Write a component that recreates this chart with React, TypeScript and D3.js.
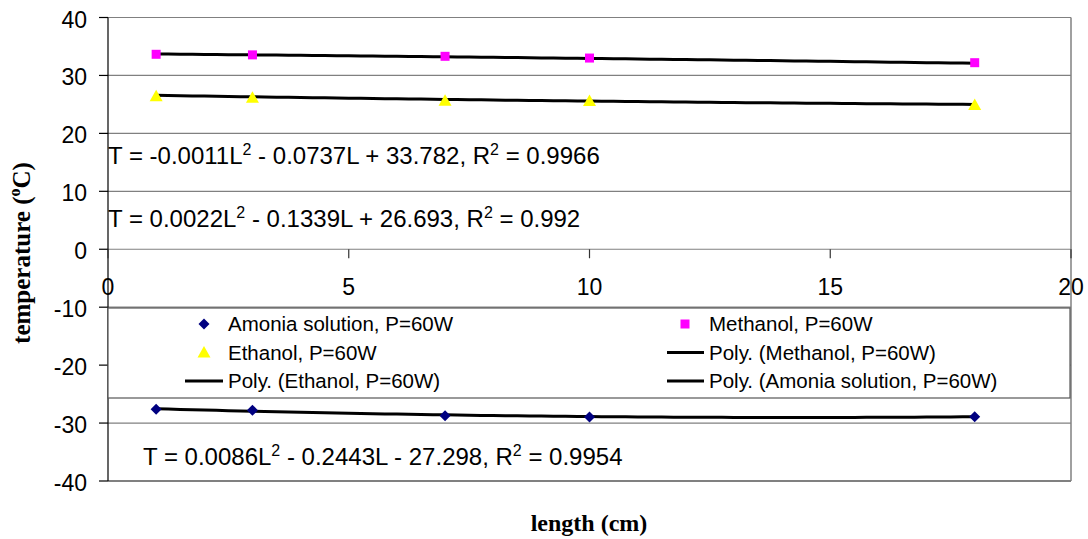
import React from "react";
import * as d3 from "d3";

const lengths = [1, 3, 7, 10, 18];
const methanol = [33.65, 33.55, 33.3, 33.0, 32.2];
const ethanol = [26.4, 26.15, 25.65, 25.6, 24.9];
const ammonia = [-27.6, -27.8, -28.75, -28.95, -28.9];

// trendline coefficients (a L^2 + b L + c), as printed on the chart
const methanolFit = [-0.0011, -0.0737, 33.782];
const ethanolFit = [0.0022, -0.1339, 26.693];
const ammoniaFit = [0.0086, -0.2443, -27.298];

const yTicks = [-40, -30, -20, -10, 0, 10, 20, 30, 40];
const xTicks = [0, 5, 10, 15, 20];

const W = 1088;
const H = 539;

const x = d3.scaleLinear().domain([0, 20]).range([108, 1071]);
const y = d3.scaleLinear().domain([-40, 40]).range([481, 17.5]);

const font = "'Liberation Sans', Arial, sans-serif";
const serif = "'Liberation Serif', 'Times New Roman', serif";

function fitLine(coef: number[]) {
  const pts: [number, number][] = [];
  for (let L = 1; L <= 18.0001; L += 0.25) {
    pts.push([L, coef[0] * L * L + coef[1] * L + coef[2]]);
  }
  return d3
    .line<[number, number]>()
    .x((d) => x(d[0]))
    .y((d) => y(d[1]))(pts) as string;
}

const diamond = "M0,-5.5L5.5,0L0,5.5L-5.5,0Z";
const triangle = "M0,-6.5L6.5,5L-6.5,5Z";

function Eq({ x0, y0, a, b, r }: { x0: number; y0: number; a: string; b: string; r: string }) {
  return (
    <text x={x0} y={y0} fontFamily={font} fontSize={24} fill="#000">
      {a}
      <tspan fontSize={16} dy={-9}>2</tspan>
      <tspan dy={9}>{b}</tspan>
      <tspan fontSize={16} dy={-9}>2</tspan>
      <tspan dy={9}>{r}</tspan>
    </text>
  );
}

export default function App() {
  const x0 = x(0);
  const x1 = x(20);
  const legTop = 308;
  const legBot = 398;
  const rows = [324, 352.5, 381];
  const c1 = 204;
  const c2 = 685;
  return (
    <svg width={W} height={H} style={{ display: "block", position: "absolute", left: 0, top: 0 }}>
      <rect x={0} y={0} width={W} height={H} fill="#fff" />
      {/* gridlines */}
      {yTicks.map((t) => (
        <line key={"g" + t} x1={x0} x2={x1} y1={y(t)} y2={y(t)} stroke="#808080" strokeWidth={t === -40 ? 2 : 1.2} />
      ))}
      {/* right border */}
      <line x1={x1} x2={x1} y1={y(40)} y2={y(-40)} stroke="#808080" strokeWidth={1.5} />
      {/* y axis */}
      <line x1={x0} x2={x0} y1={y(40)} y2={y(-40)} stroke="#000" strokeWidth={1.2} />
      {yTicks.map((t) => (
        <g key={"yt" + t}>
          <line x1={99} x2={x0} y1={y(t)} y2={y(t)} stroke="#000" strokeWidth={1.2} />
          <text x={87} y={y(t) + 10} textAnchor="end" fontFamily={font} fontSize={23} fill="#000">
            {t}
          </text>
        </g>
      ))}
      {/* x ticks */}
      {xTicks.map((t) => (
        <g key={"xt" + t}>
          <line x1={x(t)} x2={x(t)} y1={y(0)} y2={y(0) + 9} stroke="#333" strokeWidth={1.2} />
          <text x={x(t)} y={295} textAnchor="middle" fontFamily={font} fontSize={23} fill="#000">
            {t}
          </text>
        </g>
      ))}
      {/* legend */}
      <rect x={x0} y={legTop} width={x1 - x0 - 1} height={legBot - legTop} fill="#fff" stroke="#555" strokeWidth={1.2} />
      <path d={diamond} transform={`translate(${c1},${rows[0]})`} fill="#000080" />
      <text x={228} y={rows[0] + 7.3} fontFamily={font} fontSize={20.5}>Amonia solution, P=60W</text>
      <path d={triangle} transform={`translate(${c1},${rows[1]})`} fill="#ffff00" />
      <text x={228} y={rows[1] + 7.3} fontFamily={font} fontSize={20.5}>Ethanol, P=60W</text>
      <line x1={185} x2={223} y1={rows[2]} y2={rows[2]} stroke="#000" strokeWidth={3} />
      <text x={228} y={rows[2] + 7.3} fontFamily={font} fontSize={20.5}>Poly. (Ethanol, P=60W)</text>
      <rect x={c2 - 4.5} y={rows[0] - 4.5} width={9} height={9} fill="#ff00ff" />
      <text x={709} y={rows[0] + 7.3} fontFamily={font} fontSize={20.5}>Methanol, P=60W</text>
      <line x1={667} x2={704} y1={rows[1]} y2={rows[1]} stroke="#000" strokeWidth={3} />
      <text x={709} y={rows[1] + 7.3} fontFamily={font} fontSize={20.5}>Poly. (Methanol, P=60W)</text>
      <line x1={667} x2={704} y1={rows[2]} y2={rows[2]} stroke="#000" strokeWidth={3} />
      <text x={709} y={rows[2] + 7.3} fontFamily={font} fontSize={20.5}>Poly. (Amonia solution, P=60W)</text>
      {/* trendlines */}
      <path d={fitLine(methanolFit)} fill="none" stroke="#000" strokeWidth={3} />
      <path d={fitLine(ethanolFit)} fill="none" stroke="#000" strokeWidth={3} />
      <path d={fitLine(ammoniaFit)} fill="none" stroke="#000" strokeWidth={3} />
      {/* markers */}
      {lengths.map((L, i) => (
        <rect key={"m" + i} x={x(L) - 4.5} y={y(methanol[i]) - 4.5} width={9} height={9} fill="#ff00ff" />
      ))}
      {lengths.map((L, i) => (
        <path key={"e" + i} d={triangle} transform={`translate(${x(L)},${y(ethanol[i])})`} fill="#ffff00" />
      ))}
      {lengths.map((L, i) => (
        <path key={"a" + i} d={diamond} transform={`translate(${x(L)},${y(ammonia[i])})`} fill="#000080" />
      ))}
      {/* equations */}
      <Eq x0={108} y0={164} a="T = -0.0011L" b=" - 0.0737L + 33.782, R" r=" = 0.9966" />
      <Eq x0={108} y0={227} a="T = 0.0022L" b=" - 0.1339L + 26.693, R" r=" = 0.992" />
      <Eq x0={143} y0={465} a="T = 0.0086L" b=" - 0.2443L - 27.298, R" r=" = 0.9954" />
      {/* axis titles */}
      <text
        transform={`translate(30,253) rotate(-90)`}
        textAnchor="middle"
        fontFamily={serif}
        fontWeight="bold"
        fontSize={25}
      >
        temperature (<tspan fontSize={16} dy={-10}>o</tspan>
        <tspan dy={10}>C)</tspan>
      </text>
      <text x={589} y={531} textAnchor="middle" fontFamily={serif} fontWeight="bold" fontSize={24}>
        length (cm)
      </text>
    </svg>
  );
}
